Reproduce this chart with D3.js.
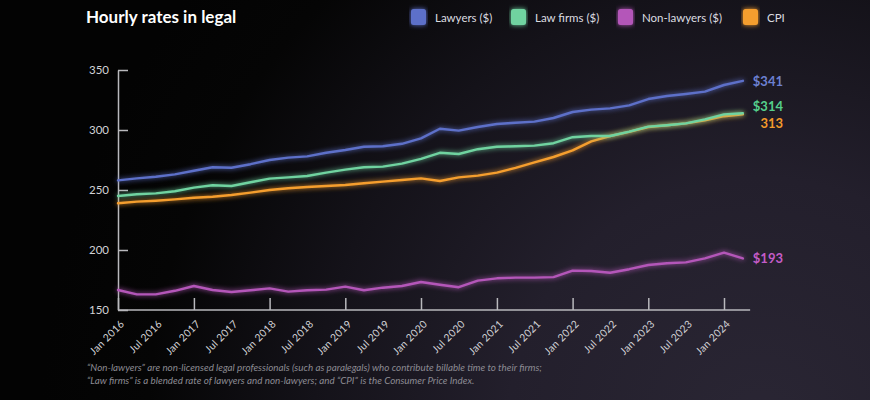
<!DOCTYPE html>
<html>
<head>
<meta charset="utf-8">
<script src="https://cdn.jsdelivr.net/npm/d3@7"></script>
<style>
  html, body { margin: 0; padding: 0; background: #050505; }
  svg { display: block; font-family: Lato, "Noto Sans", sans-serif; }
</style>
</head>
<body>
<svg id="chart" width="870" height="400"></svg>
<script>
// ---------- DATA ----------
const dates = [
  "2016-01","2016-04","2016-07","2016-10",
  "2017-01","2017-04","2017-07","2017-10",
  "2018-01","2018-04","2018-07","2018-10",
  "2019-01","2019-04","2019-07","2019-10",
  "2020-01","2020-04","2020-07","2020-10",
  "2021-01","2021-04","2021-07","2021-10",
  "2022-01","2022-04","2022-07","2022-10",
  "2023-01","2023-04","2023-07","2023-10",
  "2024-01","2024-04"
];
const lawyers = [
  258, 259.7, 261, 263,
  266, 269, 268.5, 271.5,
  275, 277, 278, 281,
  283.3, 286, 286.5, 288.5,
  293, 301, 299.5, 302.5,
  305, 306, 307, 310,
  315, 317, 318, 320.5,
  325.8, 328.3, 330, 332,
  337.5, 341
];
const lawFirms = [
  245, 246.4, 247.2, 249,
  252, 254, 253.3, 256.5,
  259.5, 260.5, 261.7, 264.5,
  267, 269, 269.5, 272,
  276, 281, 280, 284,
  286, 286.5, 287, 289,
  294, 295, 295, 298.6,
  302.8, 304, 305.5, 308.9,
  313, 314
];
const nonLawyers = [
  166.7, 163, 163, 166,
  170, 166.7, 165, 166.5,
  168, 165.3, 166.5, 167,
  169.5, 166.5, 168.6, 170,
  173.3, 171, 169, 174.5,
  176.4, 177, 177, 177.4,
  182.8, 182.5, 181, 184,
  187.5, 189, 189.7, 193,
  197.8, 193
];
const cpi = [
  238.9, 240.3, 241.1, 242.2,
  243.6, 244.4, 245.8, 247.8,
  250, 251.4, 252.5, 253.3,
  254.2, 255.6, 257, 258.3,
  259.7, 257.5, 260.5, 262,
  264.5, 268.5, 273, 277.5,
  283, 290.5, 295, 298.5,
  302.5, 304, 305.5, 308,
  311.5, 313
];
const seriesNames = ["Lawyers ($)", "Law firms ($)", "Non-lawyers ($)", "CPI"];
const endLabels = ["$341", "$314", "$193", "313"];
const yTicks = [150, 200, 250, 300, 350];
const xLabelDates = [
  "2016-01","2016-07","2017-01","2017-07","2018-01","2018-07","2019-01","2019-07",
  "2020-01","2020-07","2021-01","2021-07","2022-01","2022-07","2023-01","2023-07","2024-01"
];
const xTickDates = ["2016-01","2017-01","2018-01","2019-01","2020-01","2021-01","2022-01","2023-01","2024-01"];
const title = "Hourly rates in legal";
const footnotes = [
  "\u201cNon-lawyers\u201d are non-licensed legal professionals (such as paralegals) who contribute billable time to their firms;",
  "\u201cLaw firms\u201d is a blended rate of lawyers and non-lawyers; and \u201cCPI\u201d is the Consumer Price Index."
];

// ---------- SETUP ----------
const parse = d3.timeParse("%Y-%m");
const fmt = d3.timeFormat("%b %Y");
const svg = d3.select("#chart");
const W = 870, H = 400;

const defs = svg.append("defs");
const bg = defs.append("radialGradient").attr("id", "bg")
  .attr("gradientUnits", "userSpaceOnUse")
  .attr("cx", 760).attr("cy", 430).attr("r", 720);
bg.append("stop").attr("offset", 0).attr("stop-color", "#2a2634");
bg.append("stop").attr("offset", 0.35).attr("stop-color", "#231f2c");
bg.append("stop").attr("offset", 0.62).attr("stop-color", "#141219");
bg.append("stop").attr("offset", 0.85).attr("stop-color", "#050505");
bg.append("stop").attr("offset", 1).attr("stop-color", "#030303");

const glow = defs.append("filter").attr("id", "glow")
  .attr("x", "-10%").attr("y", "-50%").attr("width", "120%").attr("height", "200%");
glow.append("feGaussianBlur").attr("in", "SourceGraphic").attr("stdDeviation", 2.4).attr("result", "b");
const gm = glow.append("feMerge");
gm.append("feMergeNode").attr("in", "b");
gm.append("feMergeNode").attr("in", "SourceGraphic");

svg.append("rect").attr("width", W).attr("height", H).attr("fill", "url(#bg)");

const x = d3.scaleTime()
  .domain([parse("2016-01"), parse("2024-01")])
  .range([118, 724]);
const y = d3.scaleLinear().domain([150, 350]).range([310, 70]);
const xEnd = x(new Date(2024, 4, 6));

const axisColor = "#b9b9bd";
const textColor = "#d2d2d6";

// Y axis
const yAxis = svg.append("g").attr("transform", "translate(118,0)")
  .call(d3.axisLeft(y).tickValues(yTicks).tickSizeInner(-10).tickSizeOuter(0).tickPadding(9));
yAxis.select(".domain").attr("stroke", axisColor).attr("stroke-width", 1.5);
yAxis.selectAll(".tick line").attr("stroke", axisColor).attr("stroke-width", 1.5);
yAxis.selectAll(".tick text").attr("fill", textColor).attr("font-size", 11.5)
  .attr("font-family", "Lato, sans-serif");

// X axis ticks (yearly, upward)
const xTicks = svg.append("g").attr("transform", "translate(0,310)")
  .call(d3.axisBottom(x).tickValues(xTickDates.map(parse)).tickSizeInner(-12).tickSizeOuter(0).tickFormat(""));
xTicks.select(".domain").remove();
xTicks.selectAll(".tick line").attr("stroke", axisColor).attr("stroke-width", 1.5);
svg.append("line").attr("x1", 118).attr("x2", xEnd).attr("y1", 310).attr("y2", 310)
  .attr("stroke", axisColor).attr("stroke-width", 1.5);

// X labels (half-yearly, rotated)
const xLab = svg.append("g").attr("transform", "translate(0,310)")
  .call(d3.axisBottom(x).tickValues(xLabelDates.map(parse)).tickSize(0).tickFormat(fmt));
xLab.select(".domain").remove();
xLab.selectAll(".tick text")
  .attr("fill", textColor).attr("font-size", 10.3).attr("letter-spacing", 0.3)
  .attr("font-family", "Lato, sans-serif")
  .attr("text-anchor", "end")
  .attr("transform", "translate(4,12) rotate(-45)")
  .attr("dy", "0.35em").attr("y", 0).attr("x", 0);

// Lines
const seriesData = [lawyers, lawFirms, nonLawyers, cpi];
const colors = ["#5d70c9", "#6fd3a0", "#b457b9", "#f59e2e"];
const labelColors = ["#6c80d2", "#55cf8c", "#c35cc7", "#f29a2b"];
const labelDy = [5, -2, 5, 14];
const line = d3.line().x((d, i) => x(parse(dates[i]))).y(d => y(d));

[2, 3, 1, 0].forEach(k => {
  svg.append("path").datum(seriesData[k])
    .attr("d", line).attr("fill", "none")
    .attr("stroke", colors[k]).attr("stroke-width", 2.4)
    .attr("stroke-linejoin", "round").attr("stroke-linecap", "round")
    .attr("filter", "url(#glow)");
});

// End labels
seriesData.forEach((arr, k) => {
  svg.append("text")
    .attr("x", 783).attr("y", y(arr[arr.length - 1]) + labelDy[k])
    .attr("text-anchor", "end")
    .attr("fill", labelColors[k]).attr("font-size", 13).attr("font-weight", 700)
    .attr("font-family", "Lato, sans-serif")
    .text(endLabels[k]);
});

// Title
svg.append("text").attr("x", 86).attr("y", 23)
  .attr("fill", "#ffffff").attr("font-size", 17).attr("font-weight", 700)
  .attr("font-family", "Lato, sans-serif")
  .text(title);

// Legend
const legendX = [411, 511, 618, 743];
seriesNames.forEach((name, i) => {
  svg.append("rect").attr("x", legendX[i]).attr("y", 9).attr("width", 15).attr("height", 16)
    .attr("rx", 2.5).attr("fill", colors[i]).attr("filter", "url(#glow)");
  svg.append("text").attr("x", legendX[i] + 24).attr("y", 21.5)
    .attr("fill", "#dcdce0").attr("font-size", 11.5)
    .attr("font-family", "Lato, sans-serif")
    .text(name);
});

// Footnotes
footnotes.forEach((t, i) => {
  svg.append("text").attr("x", 87).attr("y", 371 + i * 13)
    .attr("fill", "#8c8b93").attr("font-size", 9.8).attr("font-style", "italic")
    .attr("font-family", "Lato, sans-serif")
    .text(t);
});
</script>
</body>
</html>
